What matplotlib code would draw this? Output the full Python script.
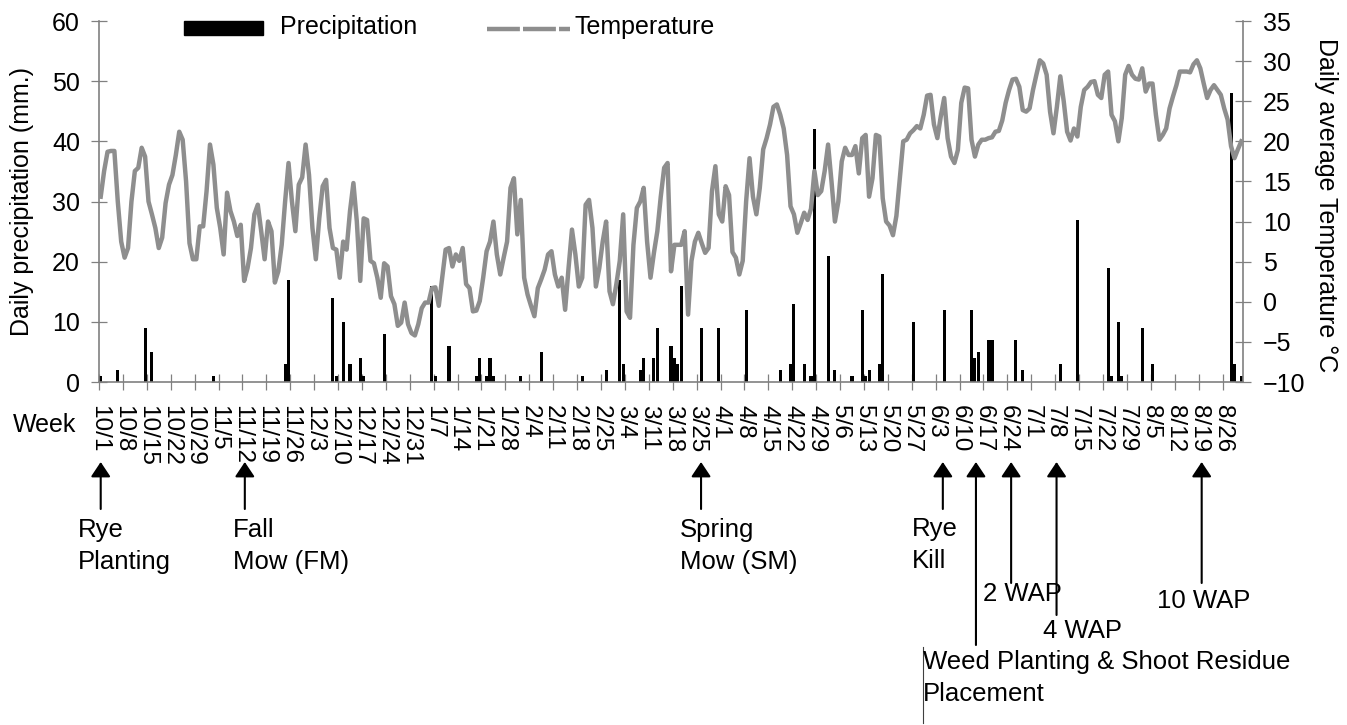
import matplotlib
matplotlib.use('Agg')
import matplotlib.pyplot as plt
from matplotlib.patches import Rectangle
from matplotlib.lines import Line2D
from matplotlib import transforms

plt.rcParams['font.family'] = ['Liberation Sans', 'DejaVu Sans']

# daily average air temperature (deg C), one value per day from 10/1 to 8/31
temperature = [
    13.1, 16.3, 18.7, 18.8, 18.8, 12.5, 7.5, 5.5, 6.7, 12.5,
    16.3, 16.7, 19.2, 18.1, 12.5, 10.9, 9.2, 6.7, 8.0, 12.3,
    14.6, 15.8, 18.3, 21.2, 20.2, 15.0, 7.3, 5.3, 5.3, 9.4,
    9.4, 13.8, 19.6, 17.1, 11.7, 9.2, 5.9, 13.6, 11.3, 10.0,
    8.2, 9.6, 2.6, 4.2, 6.7, 10.9, 12.1, 8.8, 5.3, 10.0,
    8.8, 2.4, 3.8, 7.1, 12.5, 17.3, 12.5, 8.8, 14.6, 15.5,
    19.6, 15.8, 9.2, 5.3, 10.4, 14.4, 15.2, 9.2, 6.7, 6.5,
    3.0, 7.5, 6.5, 11.3, 14.8, 10.0, 2.6, 10.4, 10.2, 5.1,
    4.8, 3.0, 0.5, 4.8, 4.4, 0.7, -0.3, -3.0, -2.6, -0.1,
    -2.8, -3.9, -4.2, -2.8, -0.8, -0.1, -0.1, 1.7, 1.8, -0.5,
    3.0, 6.5, 6.7, 4.4, 5.9, 5.1, 6.7, 2.2, 1.7, -1.2,
    -1.1, 0.1, 3.0, 6.3, 7.5, 10.0, 5.9, 3.4, 5.5, 7.5,
    14.2, 15.4, 8.4, 12.7, 3.0, 0.9, -0.5, -1.8, 1.7, 2.8,
    4.0, 5.9, 6.3, 3.4, 1.9, 3.0, -1.0, 4.2, 9.0, 5.9,
    1.9, 3.0, 12.1, 12.7, 9.2, 1.9, 4.2, 7.5, 10.0, 1.3,
    -0.3, 2.2, 5.1, 10.9, -1.2, -2.0, 7.1, 11.7, 12.5, 14.2,
    7.5, 3.0, 6.1, 8.8, 13.1, 16.7, 17.3, 3.8, 7.1, 7.1,
    7.1, 8.8, -1.6, 5.1, 7.5, 8.6, 7.3, 6.1, 6.7, 13.8,
    16.9, 10.9, 10.0, 14.4, 13.3, 6.2, 5.5, 3.4, 5.1, 12.5,
    17.9, 13.1, 10.9, 14.2, 19.0, 20.4, 22.1, 24.3, 24.6, 23.3,
    21.6, 18.3, 11.9, 10.9, 8.6, 9.8, 11.1, 10.2, 11.6, 16.3,
    13.3, 13.8, 16.3, 19.6, 15.0, 10.0, 12.5, 17.5, 19.2, 18.3,
    18.3, 19.4, 16.0, 20.4, 20.8, 13.1, 15.4, 20.8, 20.6, 12.9,
    10.0, 9.5, 8.3, 10.7, 15.4, 20.0, 20.2, 21.0, 21.4, 21.9,
    21.6, 23.3, 25.7, 25.8, 22.1, 20.4, 23.1, 25.4, 20.4, 18.1,
    17.3, 18.9, 24.8, 26.7, 26.6, 20.2, 18.1, 19.6, 20.2, 20.2,
    20.4, 20.5, 21.2, 21.3, 22.6, 24.8, 26.4, 27.7, 27.8, 26.8,
    23.9, 23.7, 24.1, 26.4, 28.3, 30.1, 29.7, 28.3, 23.7, 21.0,
    24.3, 28.1, 25.0, 21.2, 20.1, 21.6, 20.6, 24.3, 26.4, 26.8,
    27.4, 27.5, 25.8, 25.4, 28.3, 28.7, 23.3, 22.5, 20.0, 22.9,
    28.3, 29.4, 28.3, 27.8, 27.7, 29.1, 26.2, 27.2, 27.2, 23.3,
    20.2, 20.8, 21.6, 24.1, 25.6, 27.0, 28.7, 28.7, 28.7, 28.6,
    29.6, 30.1, 29.1, 27.2, 25.4, 26.4, 27.0, 26.4, 25.8, 24.1,
    22.7, 19.4, 17.9, 19.0, 20.0,
]

# rain days (days after 10/1) and daily precipitation (mm)
rain_day = [0, 5, 13, 15, 33, 54, 55, 68, 69, 71, 73, 76, 77, 83, 97, 98,
            102, 110, 111, 113, 114, 115, 123, 129, 141, 148, 152, 153, 158,
            159, 162, 163, 167, 168, 169, 170, 176, 181, 189, 199, 202, 203,
            206, 208, 209, 213, 215, 220, 223, 224, 225, 228, 229, 238, 247,
            255, 256, 257, 260, 261, 268, 270, 281, 286, 295, 296, 298, 299,
            305, 308, 331, 332, 334]
rain_mm = [1, 2, 9, 5, 1, 3, 17, 14, 1, 10, 3, 4, 1, 8, 16, 1,
           6, 1, 4, 1, 4, 1, 1, 5, 1, 2, 17, 3, 2,
           4, 4, 9, 6, 4, 3, 16, 9, 9, 12, 2, 3, 13,
           3, 1, 42, 21, 2, 1, 12, 1, 2, 3, 18, 10, 12,
           12, 4, 5, 7, 7, 7, 2, 3, 27, 19, 1, 10, 1,
           9, 3, 48, 3, 1]

week_labels = ['10/1', '10/8', '10/15', '10/22', '10/29', '11/5', '11/12',
               '11/19', '11/26', '12/3', '12/10', '12/17', '12/24', '12/31',
               '1/7', '1/14', '1/21', '1/28', '2/4', '2/11', '2/18', '2/25',
               '3/4', '3/11', '3/18', '3/25', '4/1', '4/8', '4/15', '4/22',
               '4/29', '5/6', '5/13', '5/20', '5/27', '6/3', '6/10', '6/17',
               '6/24', '7/1', '7/8', '7/15', '7/22', '7/29', '8/5', '8/12',
               '8/19', '8/26']

W, H = 1347, 725
GREY = '#808080'
LINE_GREY = '#8e8e8e'
FS = 18

fig = plt.figure(figsize=(W / 100, H / 100), dpi=100)
ax = fig.add_axes([99 / W, 1 - 382 / H, 1144 / W, 361 / H])

days = [d + 0.5 for d in range(len(temperature))]

ax.bar([d + 0.5 for d in rain_day], rain_mm, width=0.9, color='black',
       linewidth=0, zorder=2)
ax.set_xlim(0, 335)
ax.set_ylim(0, 60)
ax.set_yticks(range(0, 61, 10))
ax.set_xticks([7 * k for k in range(len(week_labels))])
ax.set_xticklabels(week_labels, rotation=270, fontsize=17.5, va='top',
                   ha='center')
ax.tick_params(axis='x', direction='inout', length=11.5, width=0.9,
               color=GREY, pad=10.5)
ax.tick_params(axis='y', direction='inout', length=11.5, width=0.9,
               color=GREY, pad=8, labelsize=FS)

ax2 = ax.twinx()
ax2.plot(days, temperature, color=LINE_GREY, lw=3.2, zorder=3)
ax2.set_ylim(-10, 35)
ax2.set_yticks(range(-10, 36, 5))
ax2.tick_params(axis='y', direction='inout', length=11.5, width=0.9,
                color=GREY, pad=8.5, labelsize=FS)

for a in (ax, ax2):
    a.spines['top'].set_visible(False)
    for s in a.spines.values():
        s.set_color(GREY)
        s.set_linewidth(1.2)
ax.spines['right'].set_visible(False)
ax2.spines['left'].set_visible(False)
ax2.spines['bottom'].set_visible(False)

fig.text(22 / W, 1 - 201 / H, 'Daily precipitation (mm.)', rotation=90,
         ha='center', va='center', fontsize=FS)
fig.text(1326 / W, 1 - 205 / H, 'Daily average Temperature °C',
         rotation=270, ha='center', va='center', fontsize=FS)
fig.text(13 / W, 1 - 425 / H, 'Week', ha='left', va='center', fontsize=FS)

# legend drawn by hand along the top of the plot
ax.add_patch(Rectangle((0.0743, 0.961), 0.0691, 0.039,
                       transform=ax.transAxes, color='black', clip_on=False))
ax.text(0.1582, 0.983, 'Precipitation', transform=ax.transAxes,
        va='center', ha='left', fontsize=FS)
ax.add_line(Line2D([0.339, 0.4117], [0.978, 0.978], transform=ax.transAxes,
                   color=LINE_GREY, lw=3.2, dashes=(7.4, 0.7),
                   clip_on=False))
ax.text(0.416, 0.983, 'Temperature', transform=ax.transAxes,
        va='center', ha='left', fontsize=FS)

# field operations marked under the date axis
trans = transforms.blended_transform_factory(ax.transData, fig.transFigure)
arrow = dict(arrowstyle='-|>,head_length=0.45,head_width=0.3',
             mutation_scale=20, lw=1.5, color='black', shrinkA=0, shrinkB=0)
TIP = 1 - 462 / H


def mark(day, tail_px):
    ax.annotate('', xy=(day, TIP), xytext=(day, 1 - tail_px / H),
                xycoords=trans, textcoords=trans, arrowprops=arrow,
                annotation_clip=False)


def note(x_px, y_px, s):
    fig.text(x_px / W, 1 - y_px / H, s, ha='left', va='center',
             fontsize=18.5, linespacing=1.47)


mark(0.5, 509)
note(78, 546, 'Rye\nPlanting')
mark(42.7, 509)
note(233, 546, 'Fall\nMow (FM)')
mark(176.3, 509)
note(680, 546, 'Spring\nMow (SM)')
mark(247.1, 509)
note(912, 545, 'Rye\nKill')
mark(256.8, 645)
note(923, 678, 'Weed Planting & Shoot Residue\nPlacement')
fig.add_artist(Line2D([922.5 / W, 922.5 / W], [1 - 647 / H, 1 - 723 / H],
                      color='#404040', lw=0.8))
mark(267.1, 583)
note(983, 594, '2 WAP')
mark(280.4, 615)
note(1043, 631, '4 WAP')
mark(322.9, 583)
note(1157, 601, '10 WAP')

fig.savefig('out.png', dpi=100)
